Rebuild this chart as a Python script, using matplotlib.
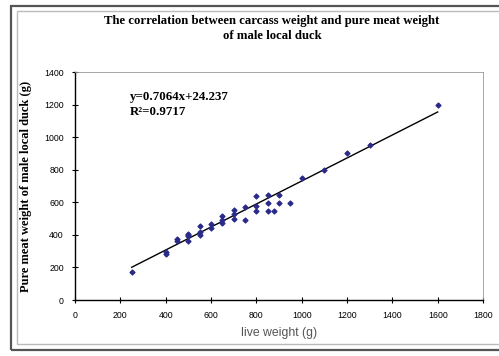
import matplotlib.pyplot as plt
import numpy as np
from matplotlib.patches import Rectangle

# carcass weight (g) vs pure meat weight (g)
live_weight = [250, 400, 400, 450, 450, 500, 500, 500, 500,
               550, 550, 550, 600, 600, 650, 650, 650,
               700, 700, 700, 750, 750, 800, 800, 800,
               850, 850, 850, 880, 900, 900, 950,
               1000, 1100, 1200, 1300, 1600]
meat_weight = [172, 285, 295, 362, 372, 365, 390, 400, 408,
               400, 420, 455, 445, 465, 470, 490, 515,
               500, 530, 552, 493, 573, 545, 580, 640,
               545, 595, 645, 548, 595, 645, 595,
               748, 800, 900, 950, 1200]

slope, intercept = 0.7064, 24.237
x_ticks = [0, 200, 400, 600, 800, 1000, 1200, 1400, 1600, 1800]
y_ticks = [0, 200, 400, 600, 800, 1000, 1200, 1400]

serif = "Liberation Serif"
sans = "Liberation Sans"

fig = plt.figure(figsize=(4.99, 3.56), dpi=100)

# double border around the chart
fig.patches.append(Rectangle((11 / 499, 1 - 350 / 356), 490 / 499, 344 / 356,
                             transform=fig.transFigure, fill=False,
                             edgecolor="#555555", linewidth=1.6))
fig.patches.append(Rectangle((17 / 499, 1 - 344 / 356), 484 / 499, 333 / 356,
                             transform=fig.transFigure, fill=False,
                             edgecolor="#bbbbbb", linewidth=1.0))

ax = fig.add_axes([75 / 499, 1 - 300 / 356, 408 / 499, 228 / 356])

ax.scatter(live_weight, meat_weight, marker="D", s=6, color="#2a2a8a", zorder=3)

xs = np.array([min(live_weight), max(live_weight)])
ax.plot(xs, slope * xs + intercept, color="black", linewidth=1.0, zorder=2)

ax.set_xlim(0, 1800)
ax.set_ylim(0, 1400)
ax.set_xticks(x_ticks)
ax.set_yticks(y_ticks)
ax.tick_params(direction="inout", length=4, width=0.8, labelsize=6.3, pad=6)
for lab in ax.get_xticklabels() + ax.get_yticklabels():
    lab.set_fontfamily(sans)

for side in ["top", "right"]:
    ax.spines[side].set_color("#999999")
    ax.spines[side].set_linewidth(0.6)
for side in ["left", "bottom"]:
    ax.spines[side].set_linewidth(1.0)

fig.text(0.545, 1 - 28.5 / 356,
         "The correlation between carcass weight and pure meat weight\nof male local duck",
         ha="center", va="center", fontsize=9.2, fontweight="bold",
         family=serif, linespacing=1.35)

ax.set_xlabel("live weight (g)", fontsize=8.8, family=sans, color="#555555", labelpad=5)
ax.set_ylabel("Pure meat weight of male local duck (g)", fontsize=9,
              fontweight="bold", family=serif, labelpad=9)

ax.text(0.135, 0.89, "y=0.7064x+24.237", transform=ax.transAxes,
        fontsize=9.3, fontweight="bold", family=serif, va="center")
ax.text(0.135, 0.825, "R\u00b2=0.9717", transform=ax.transAxes,
        fontsize=9.3, fontweight="bold", family=serif, va="center")

fig.savefig("out.png", dpi=100)
